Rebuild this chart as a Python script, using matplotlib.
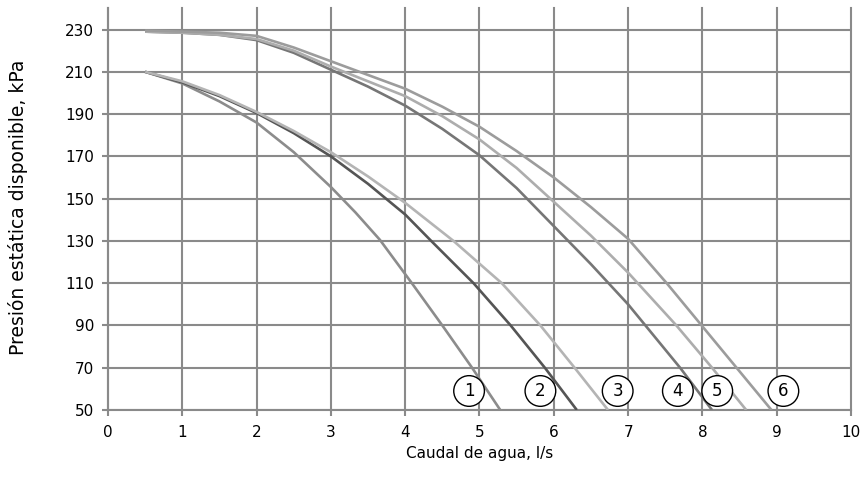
import matplotlib
matplotlib.use('Agg')
import matplotlib.pyplot as plt

plt.rcParams['font.family'] = ['DejaVu Sans']

# curvas de la bomba (caudal l/s, presión kPa)
q1 = [0.5, 1, 1.5, 2, 2.5, 3, 3.33, 3.66, 4.09, 4.5, 4.9, 5.28]
p1 = [210, 204.5, 196, 186, 172, 155.5, 143.5, 130.5, 110, 90, 70, 50]

q2 = [0.5, 1, 1.5, 2, 2.5, 3, 3.5, 4, 4.35, 4.92, 5.42, 5.88, 6.31]
p2 = [210, 205, 198.5, 190.5, 181, 170, 157, 142.5, 130, 110, 90, 70, 50]

q3 = [0.5, 1, 1.5, 2, 2.5, 3, 3.5, 4, 4.65, 5.3, 5.82, 6.28, 6.73]
p3 = [210, 205.5, 199, 191, 182, 172, 160.5, 148, 130, 110, 90, 70, 50]

q4 = [0.5, 1, 1.5, 2, 2.5, 3, 3.5, 4, 4.5, 5, 5.5, 6, 6.5, 7, 7.35, 7.7, 8.13]
p4 = [229, 228.5, 227.5, 225, 219, 211, 203, 194, 183, 170.5, 155, 137, 119, 100, 85, 70, 50]

q5 = [0.5, 1, 1.5, 2, 2.5, 3, 3.5, 4, 4.5, 5, 5.5, 6, 6.5, 7, 7.65, 8.13, 8.59]
p5 = [229, 228.5, 227.5, 225.5, 220, 212.5, 205.5, 198.5, 189, 178, 164.5, 148.5, 132.5, 115, 90, 70, 50]

q6 = [0.5, 1, 1.5, 2, 2.5, 3, 3.5, 4, 4.5, 5, 5.5, 6, 6.5, 7, 7.52, 7.99, 8.46, 8.93]
p6 = [229.5, 229, 228.5, 227, 221.5, 215, 208.5, 202, 193.5, 184, 172.5, 160, 146, 131, 110, 90, 70, 50]

etiquetas = ['1', '2', '3', '4', '5', '6']
etiq_x = [4.86, 5.82, 6.86, 7.67, 8.2, 9.09]
etiq_y = 59

xticks = list(range(0, 11))
yticks = list(range(50, 231, 20))

curvas = [(q1, p1, '#8c8c8c'), (q2, p2, '#555555'), (q3, p3, '#b4b4b4'),
          (q4, p4, '#767676'), (q5, p5, '#adadad'), (q6, p6, '#9c9c9c')]

fig = plt.figure(figsize=(8.68, 4.94), dpi=100)
ax = fig.add_axes([0.1244, 0.170, 0.856, 0.813])

gris = '#8a8a8a'
for y in yticks:
    ax.axhline(y, color=gris, lw=1.5, zorder=1)
for x in xticks:
    ax.axvline(x, color=gris, lw=1.5, zorder=1, clip_on=False)

for q, p, c in curvas:
    ax.plot(q, p, color=c, lw=1.9, zorder=3, solid_capstyle='butt',
            solid_joinstyle='round')

for t, x in zip(etiquetas, etiq_x):
    ax.text(x, etiq_y, t, fontsize=12, ha='center', va='center', zorder=5,
            bbox=dict(boxstyle='circle,pad=0.38', fc='white', ec='black', lw=1.0))

ax.set_xlim(0, 10)
ax.set_ylim(50, 240)
ax.set_xticks(xticks)
ax.set_yticks(yticks)
for s in ['top', 'right']:
    ax.spines[s].set_visible(False)
for s in ['left', 'bottom']:
    ax.spines[s].set_color(gris)
    ax.spines[s].set_linewidth(1.5)
ax.tick_params(axis='both', colors=gris, length=4, width=1.5, labelsize=11,
               labelcolor='black')
ax.tick_params(axis='y', pad=6)
ax.tick_params(axis='x', pad=7)

ax.set_xlabel('Caudal de agua, l/s', fontsize=11)
ax.set_ylabel('Presión estática disponible, kPa', fontsize=13.5)
ax.xaxis.set_label_coords(0.5, -0.09)
ax.yaxis.set_label_coords(-0.107, 0.505)

fig.savefig('out.png', dpi=100)
